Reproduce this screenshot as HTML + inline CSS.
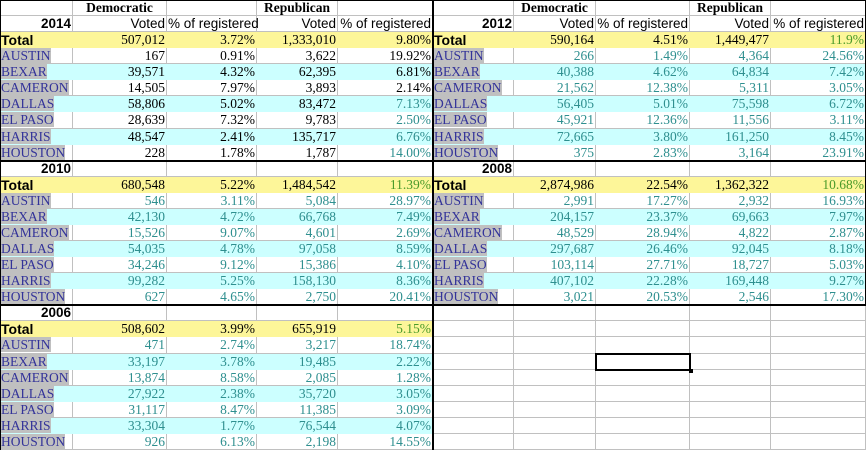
<!DOCTYPE html>
<html><head><meta charset="utf-8">
<style>
html,body{margin:0;padding:0;background:#fff;}
#sheet{position:relative;width:866px;height:450px;overflow:hidden;background:#fff;}
.c{position:absolute;box-sizing:border-box;border-right:1px solid #c0c0c0;border-bottom:1px solid #c0c0c0;font-size:13.5px;line-height:16px;white-space:nowrap;overflow:visible;padding:0 1px;}
.r{text-align:right;}
.num{font-family:"Liberation Serif",serif;}
.sans{font-family:"Liberation Sans",sans-serif;}
.lbl{font-family:"Liberation Serif",serif;color:#333399;}
.lbl span{background:#c0c0c0;}
.hb{position:absolute;background:#000;}
</style></head><body>
<div id="sheet"></div>
<script>
const years=["2014","2012","2010","2008","2006"];
const counties=["AUSTIN","BEXAR","CAMERON","DALLAS","EL PASO","HARRIS","HOUSTON"];
const demVoted=[
["507,012","167","39,571","14,505","58,806","28,639","48,547","228"],
["590,164","266","40,388","21,562","56,405","45,921","72,665","375"],
["680,548","546","42,130","15,526","54,035","34,246","99,282","627"],
["2,874,986","2,991","204,157","48,529","297,687","103,114","407,102","3,021"],
["508,602","471","33,197","13,874","27,922","31,117","33,304","926"]];
const demPct=[
["3.72%","0.91%","4.32%","7.97%","5.02%","7.32%","2.41%","1.78%"],
["4.51%","1.49%","4.62%","12.38%","5.01%","12.36%","3.80%","2.83%"],
["5.22%","3.11%","4.72%","9.07%","4.78%","9.12%","5.25%","4.65%"],
["22.54%","17.27%","23.37%","28.94%","26.46%","27.71%","22.28%","20.53%"],
["3.99%","2.74%","3.78%","8.58%","2.38%","8.47%","1.77%","6.13%"]];
const repVoted=[
["1,333,010","3,622","62,395","3,893","83,472","9,783","135,717","1,787"],
["1,449,477","4,364","64,834","5,311","75,598","11,556","161,250","3,164"],
["1,484,542","5,084","66,768","4,601","97,058","15,386","158,130","2,750"],
["1,362,322","2,932","69,663","4,822","92,045","18,727","169,448","2,546"],
["655,919","3,217","19,485","2,085","35,720","11,385","76,544","2,198"]];
const repPct=[
["9.80%","19.92%","6.81%","2.14%","7.13%","2.50%","6.76%","14.00%"],
["11.9%","24.56%","7.42%","3.05%","6.72%","3.11%","8.45%","23.91%"],
["11.39%","28.97%","7.49%","2.69%","8.59%","4.10%","8.36%","20.41%"],
["10.68%","16.93%","7.97%","2.87%","8.18%","5.03%","9.27%","17.30%"],
["5.15%","18.74%","2.22%","1.28%","3.05%","3.09%","4.07%","14.55%"]];

const S=document.getElementById('sheet');
const RH=16.07;
const colsL=[0,73,167,257,338,433];
const colsR=[433,514,596,690,771,866];
const ry=i=>Math.round(i*RH);
function cell(x0,x1,row,text,cls,style,name){
  const d=document.createElement('div');
  d.className='c '+(cls||'');
  d.style.left=x0+'px';d.style.width=(x1-x0)+'px';
  d.style.top=ry(row)+'px';d.style.height=(ry(row+1)-ry(row))+'px';
  if(style)Object.assign(d.style,style);
  if(text!==null&&text!==undefined)d.innerHTML=text;
  
  
  S.appendChild(d);return d;
}
const TEAL='#2e8f8f',GREEN='#4a9a2a',YEL='#fdf699',CY='#ccffff';
// empty grid background
for(let r=0;r<28;r++){[colsL,colsR].forEach(cs=>{for(let c=0;c<5;c++)cell(cs[c],cs[c+1],r,'','',null,'empty-cell');});}
// header row
cell(colsL[1],colsL[2],0,'Democratic','num',{fontWeight:'bold',textAlign:'center'},'democratic-header');
cell(colsL[3],colsL[4],0,'Republican','num',{fontWeight:'bold',textAlign:'center'},'republican-header');
cell(colsR[1],colsR[2],0,'Democratic','num',{fontWeight:'bold',textAlign:'center'},'democratic-header');
cell(colsR[3],colsR[4],0,'Republican','num',{fontWeight:'bold',textAlign:'center'},'republican-header');
const blocks=[[colsL,1],[colsR,1],[colsL,10],[colsR,10],[colsL,19]];
years.forEach((yr,b)=>{
  const [cs,r0]=blocks[b];
  cell(cs[0],cs[1],r0,yr,'sans r',{fontWeight:'bold'},'year-label-'+yr);
  if(r0===1){
    cell(cs[1],cs[2],r0,'Voted','sans r',null,'voted-header');
    cell(cs[2],cs[3],r0,'% of registered','sans r',null,'pct-header');
    cell(cs[3],cs[4],r0,'Voted','sans r',null,'voted-header');
    cell(cs[4],cs[5],r0,'% of registered','sans r',null,'pct-header');
  }
  for(let i=0;i<8;i++){
    const row=r0+1+i;
    let bg=i===0?YEL:(i%2===0?CY:'#fff');
    const st={background:bg};
    if(i===0){st.borderBottomColor=YEL;st.borderRightColor=YEL;}
    else if(bg===CY){st.borderBottomColor=CY;st.borderRightColor=CY;}
    const lab=i===0?'Total':'<span>'+counties[i-1]+'</span>';
    cell(cs[0],cs[1],row,lab,i===0?'sans':'lbl',Object.assign({},st,i===0?{fontWeight:'bold',fontSize:'14px'}:{}),i===0?'total-label':'county-label');
    const vals=[demVoted[b][i],demPct[b][i],repVoted[b][i],repPct[b][i]];
    vals.forEach((v,k)=>{
      let col=TEAL;
      if(b===0){col=(k===3&&i>=4)?TEAL:'#000';}
      if(i===0){col=(k===3&&b>0)?GREEN:'#000';}
      cell(cs[k+1],cs[k+2],row,v,'num r',Object.assign({},st,{color:col}),'value-cell');
    });
  }
});
function bar(x,y,w,h,name){const d=document.createElement('div');d.className='hb';d.style.left=x+'px';d.style.top=y+'px';d.style.width=w+'px';d.style.height=h+'px';


S.appendChild(d);}
bar(0,0,866,1,'top-border');
bar(0,0,1,450,'left-border');
bar(432,0,2,450,'center-divider');
bar(865,0,1,306,'right-border');
bar(0,ry(10)-1,866,2,'block-divider');
bar(0,ry(19)-1,866,2,'block-divider');
// selected cell
const sel=document.createElement('div');
sel.style.cssText='position:absolute;left:595px;top:353px;width:96px;height:18px;box-sizing:border-box;border:2px solid #000;';


S.appendChild(sel);
bar(689,369,4,4,'fill-handle');
</script>
</body></html>
